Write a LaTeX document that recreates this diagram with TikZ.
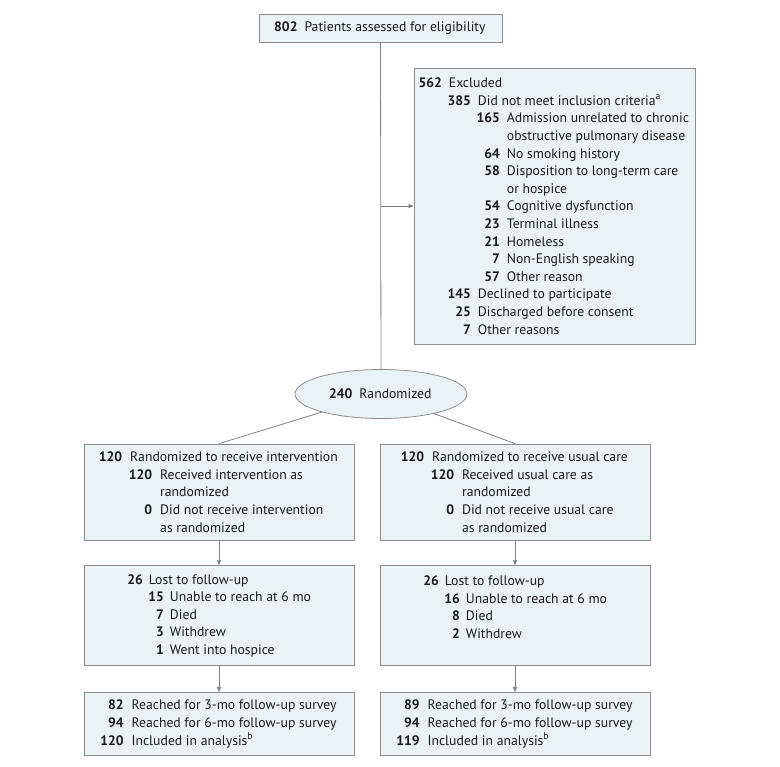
\documentclass[tikz,border=0pt]{standalone}
\usepackage{fontspec}
\setmainfont{PT Sans}
\usepackage{tikz}
\usetikzlibrary{positioning, shapes.geometric, arrows.meta}

\definecolor{boxfill}{HTML}{EAF2F5}
\definecolor{boxline}{HTML}{8C8C8C}
\definecolor{linkgray}{HTML}{808080}
\definecolor{txt}{HTML}{1A1A1A}

\newlength\numw
\newlength\numgap
\newcommand{\itm}[3][0pt]{\hspace*{#1}\makebox[\numw][r]{\bfseries #2}\hspace*{\numgap}#3}
\newcommand{\cnt}[2][0pt]{\hspace*{#1}\hspace*{\numw}\hspace*{\numgap}#2}
\newcommand{\fs}{\fontsize{13.7}{17.6}\selectfont}

\begin{document}
\begin{tikzpicture}[x=1pt, y=-1pt, node distance=25pt,
    entry/.style = {draw=boxline, fill=boxfill, rectangle, line width=0.8pt,
                    inner sep=0pt, align=left, text=txt, font=\fs,
                    minimum width=270pt},
    nums/.code 2 args = {\setlength\numw{#1}\setlength\numgap{#2}},
    arrow/.style = {draw=linkgray, line width=0.8pt,
                    -{Triangle[length=5pt, width=4pt]}},
    link/.style = {draw=linkgray, line width=0.8pt}]
    \useasboundingbox (0,0) rectangle (780,767);

    % States
    \node [entry, nums={22pt}{7pt}, minimum width=243pt, minimum height=28pt]
        (assess) at (380.5,28) {\itm{802}{Patients assessed for eligibility}};
    \node [entry, nums={22pt}{7pt}, minimum width=281pt, minimum height=276pt]
        (excl) at (554.5,206)
        {\itm{562}{Excluded}\\
         \itm[29pt]{385}{Did not meet inclusion criteria\textsuperscript{a}}\\
         \itm[58pt]{165}{Admission unrelated to chronic}\\
         \cnt[58pt]{obstructive pulmonary disease}\\
         \itm[58pt]{64}{No smoking history}\\
         \itm[58pt]{58}{Disposition to long-term care}\\
         \cnt[58pt]{or hospice}\\
         \itm[58pt]{54}{Cognitive dysfunction}\\
         \itm[58pt]{23}{Terminal illness}\\
         \itm[58pt]{21}{Homeless}\\
         \itm[58pt]{7}{Non-English speaking}\\
         \itm[58pt]{57}{Other reason}\\
         \itm[29pt]{145}{Declined to participate}\\
         \itm[29pt]{25}{Discharged before consent}\\
         \itm[29pt]{7}{Other reasons}};
    \node [entry, nums={22pt}{7pt}, ellipse, minimum width=172pt, minimum height=49pt]
        (rand) at (381,394) {\itm{240}{Randomized}};

    \node [entry, nums={22pt}{8pt}, minimum height=96pt] (intv) at (219,492)
        {\itm{120}{Randomized to receive intervention}\\
         \itm[30pt]{120}{Received intervention as}\\
         \cnt[30pt]{randomized}\\
         \itm[30pt]{0}{Did not receive intervention}\\
         \cnt[30pt]{as randomized}};
    \node [entry, nums={22pt}{8pt}, minimum height=96pt] (usual) at (515,492)
        {\itm{120}{Randomized to receive usual care}\\
         \itm[30pt]{120}{Received usual care as}\\
         \cnt[30pt]{randomized}\\
         \itm[30pt]{0}{Did not receive usual care}\\
         \cnt[30pt]{as randomized}};

    \node [entry, nums={16pt}{6pt}, minimum height=100pt] (lostI) [below=of intv]
        {\itm{26}{Lost to follow-up}\\
         \itm[21pt]{15}{Unable to reach at 6 mo}\\
         \itm[21pt]{7}{Died}\\
         \itm[21pt]{3}{Withdrew}\\
         \itm[21pt]{1}{Went into hospice}};
    \node [entry, nums={16pt}{6pt}, minimum height=100pt] (lostU) [below=of usual]
        {\itm{26}{Lost to follow-up}\\
         \itm[21pt]{16}{Unable to reach at 6 mo}\\
         \itm[21pt]{8}{Died}\\
         \itm[21pt]{2}{Withdrew}\\
         \mbox{}};

    \node [entry, nums={22pt}{8pt}, minimum height=63pt] (anaI) [below=26pt of lostI]
        {\itm{82}{Reached for 3-mo follow-up survey}\\
         \itm{94}{Reached for 6-mo follow-up survey}\\
         \itm{120}{Included in analysis\textsuperscript{b}}};
    \node [entry, nums={22pt}{8pt}, minimum height=63pt] (anaU) [below=26pt of lostU]
        {\itm{89}{Reached for 3-mo follow-up survey}\\
         \itm{94}{Reached for 6-mo follow-up survey}\\
         \itm{119}{Included in analysis\textsuperscript{b}}};

    % Transitions
    \draw [link] (assess) -- (rand);
    \draw [arrow] (assess.south |- excl.west) -- (excl.west);
    \draw [link] (rand) -- (intv.north);
    \draw [link] (rand) -- (usual.north);
    \draw [arrow] (intv) -- (lostI);
    \draw [arrow] (usual) -- (lostU);
    \draw [arrow] (lostI) -- (anaI);
    \draw [arrow] (lostU) -- (anaU);
\end{tikzpicture}
\end{document}
